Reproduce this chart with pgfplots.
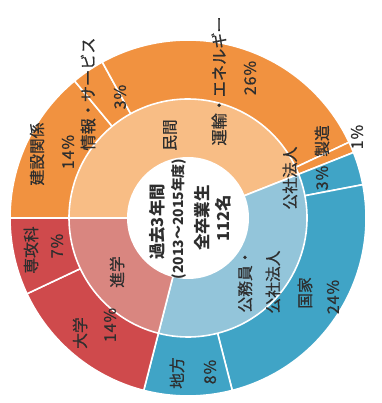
\documentclass[border=0pt]{standalone}
\usepackage{pgfplots}
\pgfplotsset{compat=1.18}
\usepackage{pgfplotstable}
\usepackage{fontspec}
\setmainfont{Noto Sans CJK JP}
\newfontfamily\medfont{Noto Sans CJK JP}[FakeBold=0.7]
\newfontfamily\pctfont{Noto Sans CJK JP}[FakeBold=0.7,LetterSpace=6]
\definecolor{orO}{HTML}{F19240}
\definecolor{orI}{HTML}{F8BD85}
\definecolor{blO}{HTML}{40A4C6}
\definecolor{blI}{HTML}{93C5DA}
\definecolor{rdO}{HTML}{CF4A4C}
\definecolor{rdI}{HTML}{D98680}
\definecolor{txt}{HTML}{2E2E2E}

% outer ring (clockwise from 9 o'clock)
\pgfplotstableread{
name pct col
kensetsu 14 orO
joho 3 orO
unyu 26 orO
seizo 1 orO
kosha 3 blO
kokka 24 blO
chiho 8 blO
daigaku 14 rdO
senkoka 7 rdO
}\outerdata
% inner ring
\pgfplotstableread{
name pct col
minkan 44 orI
koumuin 35 blI
shingaku 21 rdI
}\innerdata

\def\cx{188}\def\cy{-218}
\newcommand\drawring[2]{%
  \pgfplotstablegetrowsof{#1}%
  \pgfmathtruncatemacro\nrows{\pgfplotsretval-1}%
  \def\cum{180}%
  \pgfplotsforeachungrouped \i in {0,...,\nrows}{%
    \pgfplotstablegetelem{\i}{pct}\of{#1}\let\mypct\pgfplotsretval
    \pgfplotstablegetelem{\i}{col}\of{#1}\let\mycol\pgfplotsretval
    \pgfmathsetmacro\endang{\cum-3.6*\mypct}%
    \edef\temp{\noexpand\fill[\mycol,draw=white,line width=1.6bp,line join=round]
      (axis cs:\cx,\cy) -- ++(\cum:#2bp) arc[start angle=\cum,end angle=\endang,radius=#2bp] -- cycle;}%
    \temp
    \let\cum\endang
  }%
}
\newcommand\lab[4][15.8]{\node[rotate=90,text=txt,inner sep=0pt,font=\medfont\fontsize{#1}{#1}\selectfont] at (axis cs:#2,-#3) {#4};}
\newcommand\plab[4][16]{\node[rotate=90,text=txt,inner sep=0pt,font=\pctfont\fontsize{#1}{#1}\selectfont] at (axis cs:#2,-#3) {#4};}
\newcommand\blab[4][16.5]{\node[rotate=90,text=txt,inner sep=0pt,font=\bfseries\fontsize{#1}{#1}\selectfont] at (axis cs:#2,-#3) {#4};}

\begin{document}
\begin{tikzpicture}
\begin{axis}[x=1bp,y=1bp,xmin=0,xmax=370,ymin=-403,ymax=0,hide axis,clip=false]
\path (axis cs:0,0) (axis cs:370,-403);
\drawring{\outerdata}{178}
\drawring{\innerdata}{119}
\fill[white] (axis cs:\cx,\cy) circle[radius=61bp];
% outer labels
\lab{37}{154}{建設関係}
\plab{68}{152}{14\%}
\lab[16.2]{88}{94}{情報・サービス}
\plab{120}{97}{3\%}
\lab[16.2]{219}{81}{運輸・エネルギー}
\plab{250}{78}{26\%}
\lab{322}{141}{製造}
\plab{357}{137}{1\%}
\lab{290}{178}{公社法人}
\plab{322}{178}{3\%}
\lab{305}{293}{国家}
\plab{333}{297}{24\%}
\lab{177}{373}{地方}
\plab{210}{372}{8\%}
\lab{80}{333}{大学}
\plab{110}{325}{14\%}
\lab{31}{250}{専攻科}
\plab{57}{246}{7\%}
% inner labels
\lab{170}{135}{民間}
\lab{117}{272}{進学}
\lab{245}{281}{公務員・}
\lab{273}{282}{公社法人}
% center
\blab{157}{222}{過去3年間}
\blab[14]{179}{219}{(2013\char"301C 2015年度)}
\blab{202}{218}{全卒業生}
\blab{223}{218}{112名}
\end{axis}
\end{tikzpicture}
\end{document}
